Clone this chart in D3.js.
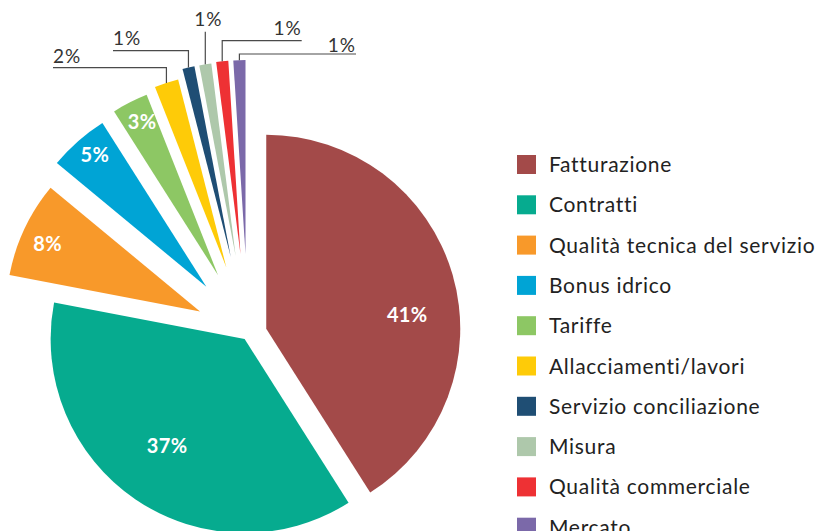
<!DOCTYPE html>
<html>
<head>
<meta charset="utf-8">
<script src="https://cdn.jsdelivr.net/npm/d3@7"></script>
<style>
  html, body { margin: 0; padding: 0; background: #fff; }
  svg { display: block; font-family: Lato, "Noto Sans", sans-serif; }
</style>
</head>
<body>
<svg id="chart" width="815" height="531"></svg>
<script>
// reclami per argomento (%)
const categories = ['Fatturazione', 'Contratti', 'Qualità tecnica del servizio', 'Bonus idrico',
  'Tariffe', 'Allacciamenti/lavori', 'Servizio conciliazione', 'Misura',
  'Qualità commerciale', 'Mercato'];
const values = [41, 37, 8, 5, 3, 2, 1, 1, 1, 1];
const colors = ['#a34a49', '#06ab8f', '#f8992a', '#00a4d5', '#8dc764',
  '#fecb08', '#1f4e74', '#aec8ab', '#ee3134', '#7b69a9'];

// how far each slice is pulled out of the pie
const explode = [19, 6, 53, 63, 66, 70, 79, 79, 80, 80];

// inside labels: radius fraction and small angle tweak (deg)
const insideR = [0.73, 0.68, 0.86, 0.89, 0.88];
const insideRot = [10.6, 1.8, -1.2, 1.2, 0.6];

// outside labels with leader lines (slice index, elbow y, end x, text anchor)
const callouts = [
  { i: 5, elbow: 67.7, end: 53, anchor: 'start', ty: 63 },
  { i: 6, elbow: 50.7, end: 113, anchor: 'start', ty: 45 },
  { i: 7, elbow: 31.7, end: null, anchor: 'middle', ty: 26 },
  { i: 8, elbow: 40.7, end: 301.7, anchor: 'end', ty: 35 },
  { i: 9, elbow: 54, end: 356, anchor: 'end', ty: 51.5 }
];

const svg = d3.select('#chart');
const cx = 248, cy = 334, radius = 194;

const pie = d3.pie().sort(null).value((d) => d);
const arcs = pie(values);
const arc = d3.arc().innerRadius(0).outerRadius(radius);

const polar = (r, a) => [Math.sin(a) * r, -Math.cos(a) * r];
const mid = (d) => (d.startAngle + d.endAngle) / 2;

const g = svg.append('g').attr('transform', `translate(${cx},${cy})`);

g.selectAll('path.slice')
  .data(arcs)
  .enter()
  .append('path')
  .attr('class', 'slice')
  .attr('d', arc)
  .attr('transform', (d, i) => {
    const [dx, dy] = polar(explode[i], mid(d));
    return `translate(${dx},${dy})`;
  })
  .style('fill', (d, i) => colors[i]);

// percentage labels inside the big slices
function insidePos(d, i) {
  const o = polar(explode[i], mid(d));
  const p = polar(insideR[i] * radius, mid(d) + insideRot[i] * Math.PI / 180);
  return [o[0] + p[0], o[1] + p[1]];
}

g.selectAll('text.inside')
  .data(arcs.slice(0, insideR.length))
  .enter()
  .append('text')
  .attr('class', 'inside')
  .attr('x', (d, i) => insidePos(d, i)[0])
  .attr('y', (d, i) => insidePos(d, i)[1])
  .attr('dy', '0.36em')
  .attr('text-anchor', 'middle')
  .style('fill', '#fff')
  .style('font-size', '20px')
  .style('font-weight', 700)
  .style('letter-spacing', '0.3px')
  .text((d) => `${d.data}%`);

// leader lines for the small slices
callouts.forEach((c) => {
  const d = arcs[c.i];
  const [sx, sy] = polar(explode[c.i] + radius, mid(d));
  const x0 = cx + sx, y0 = cy + sy;
  const pts = [[x0, y0], [x0, c.elbow]];
  if (c.end !== null) pts.push([c.end, c.elbow]);
  svg.append('path')
    .attr('d', d3.line()(pts))
    .style('fill', 'none')
    .style('stroke', '#4a4a4a')
    .style('stroke-width', 1.2);
  svg.append('text')
    .attr('x', c.end !== null ? c.end : x0 + 3)
    .attr('y', c.ty)
    .attr('text-anchor', c.anchor)
    .style('fill', '#333')
    .style('font-size', '19px')
    .style('letter-spacing', '1px')
    .text(`${d.data}%`);
});

// legend
const legend = svg.append('g').attr('transform', 'translate(517,155)');
const rows = legend.selectAll('g')
  .data(categories)
  .enter()
  .append('g')
  .attr('transform', (d, i) => `translate(0,${i * 40.3})`);

rows.append('rect')
  .attr('width', 19)
  .attr('height', 19)
  .style('fill', (d, i) => colors[i]);

rows.append('text')
  .attr('x', 32)
  .attr('y', 9.5)
  .attr('dy', '0.36em')
  .style('fill', '#222')
  .style('font-size', '21px')
  .style('letter-spacing', '0.7px')
  .text((d) => d);
</script>
</body>
</html>
